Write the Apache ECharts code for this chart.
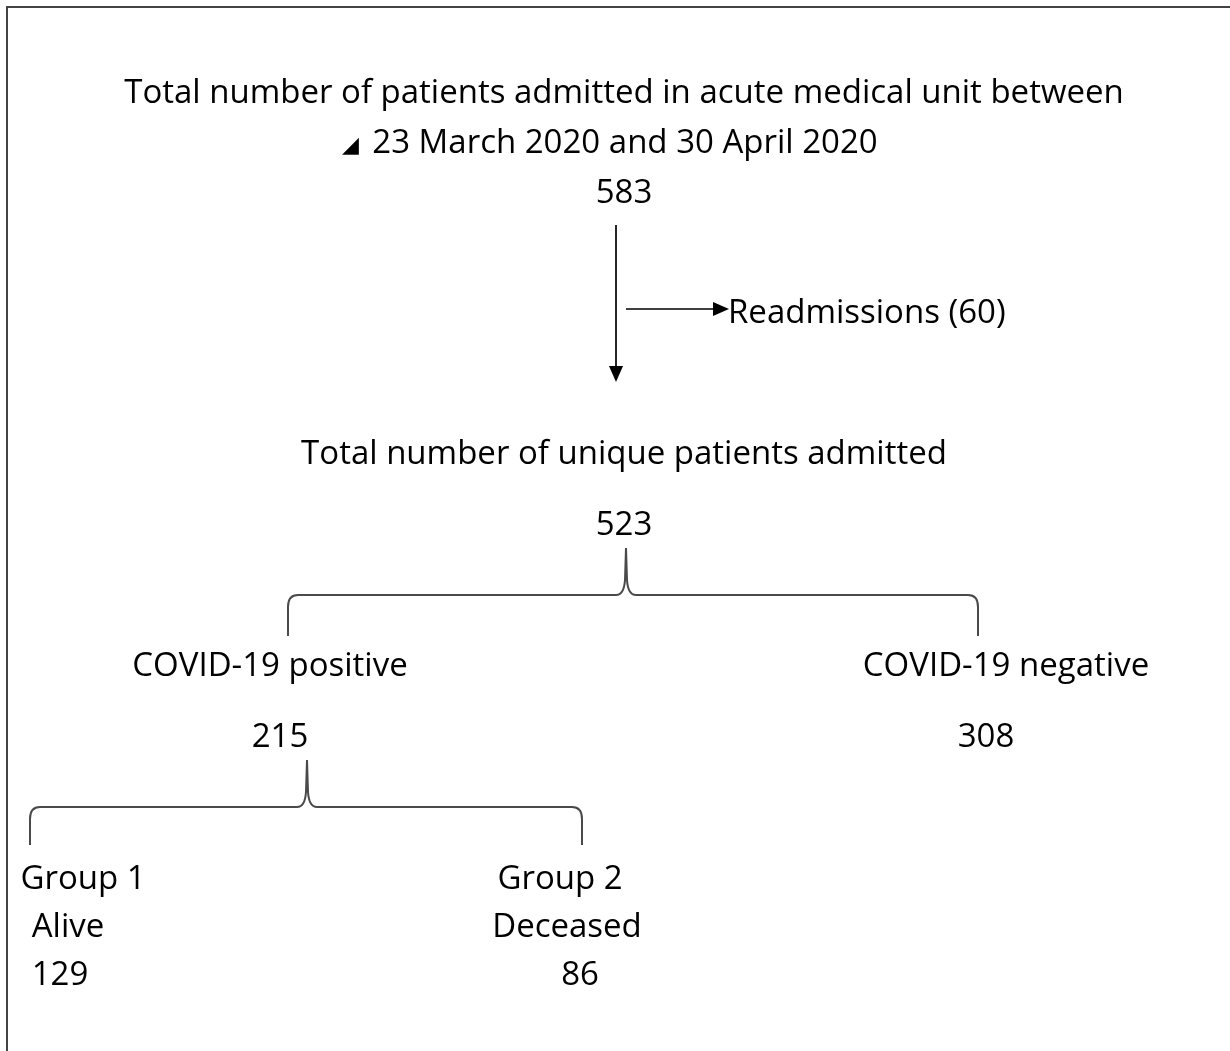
<!DOCTYPE html>
<html>
<head>
<meta charset="utf-8">
<script src="https://cdn.jsdelivr.net/npm/echarts@6/dist/echarts.min.js"></script>
<style>
  html, body { margin: 0; padding: 0; background: #fff; }
  #chart { width: 1230px; height: 1051px; }
</style>
</head>
<body>
<div id="chart"></div>
<script>
  // 数据
  var headerLines = ['Total number of patients admitted in acute medical unit between', '23 March 2020 and 30 April 2020'];
  var totalAdmitted = 583;
  var readmissions = 60;
  var uniqueLabel = 'Total number of unique patients admitted';
  var uniquePatients = 523;
  var covidLabels = ['COVID-19 positive', 'COVID-19 negative'];
  var covidCounts = [215, 308];
  var groupLabels = ['Group 1', 'Group 2'];
  var outcomeLabels = ['Alive', 'Deceased'];
  var outcomeCounts = [129, 86];

  var FONT = '"Open Sans", "Noto Sans", sans-serif';
  var FS = 33;

  // 文字布局: [文字, x, y, 对齐, 字号]
  var textNodes = [
    [headerLines[0], 624, 94, 'center', FS],
    ['\u25E2', 350, 146, 'center', 22],
    [headerLines[1], 625, 144, 'center', FS],
    [String(totalAdmitted), 624, 194, 'center', FS],
    ['Readmissions (' + readmissions + ')', 728, 314, 'left', FS],
    [uniqueLabel, 624, 455, 'center', FS],
    [String(uniquePatients), 624, 526, 'center', FS],
    [covidLabels[0], 270, 667, 'center', FS],
    [covidLabels[1], 1006, 667, 'center', FS],
    [String(covidCounts[0]), 280, 738, 'center', FS],
    [String(covidCounts[1]), 986, 738, 'center', FS],
    [groupLabels[0], 83, 880, 'center', FS],
    [outcomeLabels[0], 68, 928, 'center', FS],
    [String(outcomeCounts[0]), 60, 976, 'center', FS],
    [groupLabels[1], 560, 880, 'center', FS],
    [outcomeLabels[1], 567, 928, 'center', FS],
    [String(outcomeCounts[1]), 580, 976, 'center', FS]
  ];

  // 箭头: [x1, y1, x2, y2]
  var arrows = [
    [616, 225, 616, 382],
    [626, 309, 729, 309]
  ];

  // 大括号: [左x, 右x, 横线y, 尖端x, 尖端y, 底部y]
  var braces = [
    [288, 978, 595, 626, 548, 636],
    [30, 582, 807, 307, 760, 845]
  ];

  var chart = echarts.init(document.getElementById('chart'));

  function P(api, x, y) { return api.coord([x, y]); }

  function bracePath(api, b) {
    var l = b[0], r = b[1], hy = b[2], tx = b[3], ty = b[4], by = b[5];
    var c = function (x, y) { var p = P(api, x, y); return p[0].toFixed(1) + ' ' + p[1].toFixed(1); };
    return 'M' + c(l, by) + ' L' + c(l, hy + 12) + ' Q' + c(l, hy) + ' ' + c(l + 10, hy) +
      ' L' + c(tx - 10, hy) + ' Q' + c(tx - 2, hy) + ' ' + c(tx - 1, hy - 15) + ' L' + c(tx, ty) +
      ' M' + c(tx, ty) + ' L' + c(tx + 1, hy - 15) + ' Q' + c(tx + 2, hy) + ' ' + c(tx + 10, hy) +
      ' L' + c(r - 10, hy) + ' Q' + c(r, hy) + ' ' + c(r, hy + 12) + ' L' + c(r, by);
  }

  var option = {
    animation: false,
    grid: { left: 0, right: 0, top: 0, bottom: 0 },
    xAxis: { type: 'value', min: 0, max: 1230, show: false },
    yAxis: { type: 'value', min: 0, max: 1051, inverse: true, show: false },
    series: [
      {
        // 边框
        type: 'custom',
        data: [[0]],
        renderItem: function (params, api) {
          return {
            type: 'polyline',
            shape: { points: [P(api, 7, 1051), P(api, 7, 7), P(api, 1230, 7)] },
            style: { stroke: '#444', lineWidth: 2, fill: null }
          };
        }
      },
      {
        type: 'custom',
        data: arrows.map(function (a, i) { return [i]; }),
        renderItem: function (params, api) {
          var a = arrows[params.dataIndex];
          var p1 = P(api, a[0], a[1]), p2 = P(api, a[2], a[3]);
          var dx = p2[0] - p1[0], dy = p2[1] - p1[1];
          var len = Math.sqrt(dx * dx + dy * dy);
          var ux = dx / len, uy = dy / len;
          var hl = 16, hw = 7;
          var bx = p2[0] - ux * hl, by = p2[1] - uy * hl;
          return {
            type: 'group',
            children: [
              { type: 'line', shape: { x1: p1[0], y1: p1[1], x2: bx, y2: by }, style: { stroke: '#000', lineWidth: 1.7 } },
              { type: 'polygon', shape: { points: [p2, [bx - uy * hw, by + ux * hw], [bx + uy * hw, by - ux * hw]] }, style: { fill: '#000' } }
            ]
          };
        }
      },
      {
        type: 'custom',
        data: braces.map(function (b, i) { return [i]; }),
        renderItem: function (params, api) {
          return {
            type: 'path',
            shape: { pathData: bracePath(api, braces[params.dataIndex]) },
            style: { stroke: '#4a4a4a', lineWidth: 2, fill: null }
          };
        }
      },
      {
        type: 'custom',
        data: textNodes.map(function (t, i) { return [t[1], t[2]]; }),
        renderItem: function (params, api) {
          var t = textNodes[params.dataIndex];
          var p = P(api, t[1], t[2]);
          return {
            type: 'text',
            x: p[0], y: p[1],
            style: {
              text: t[0], fill: '#000', fontSize: t[4], fontFamily: FONT,
              align: t[3], verticalAlign: 'middle'
            }
          };
        }
      }
    ]
  };
  chart.setOption(option);
</script>
</body>
</html>
